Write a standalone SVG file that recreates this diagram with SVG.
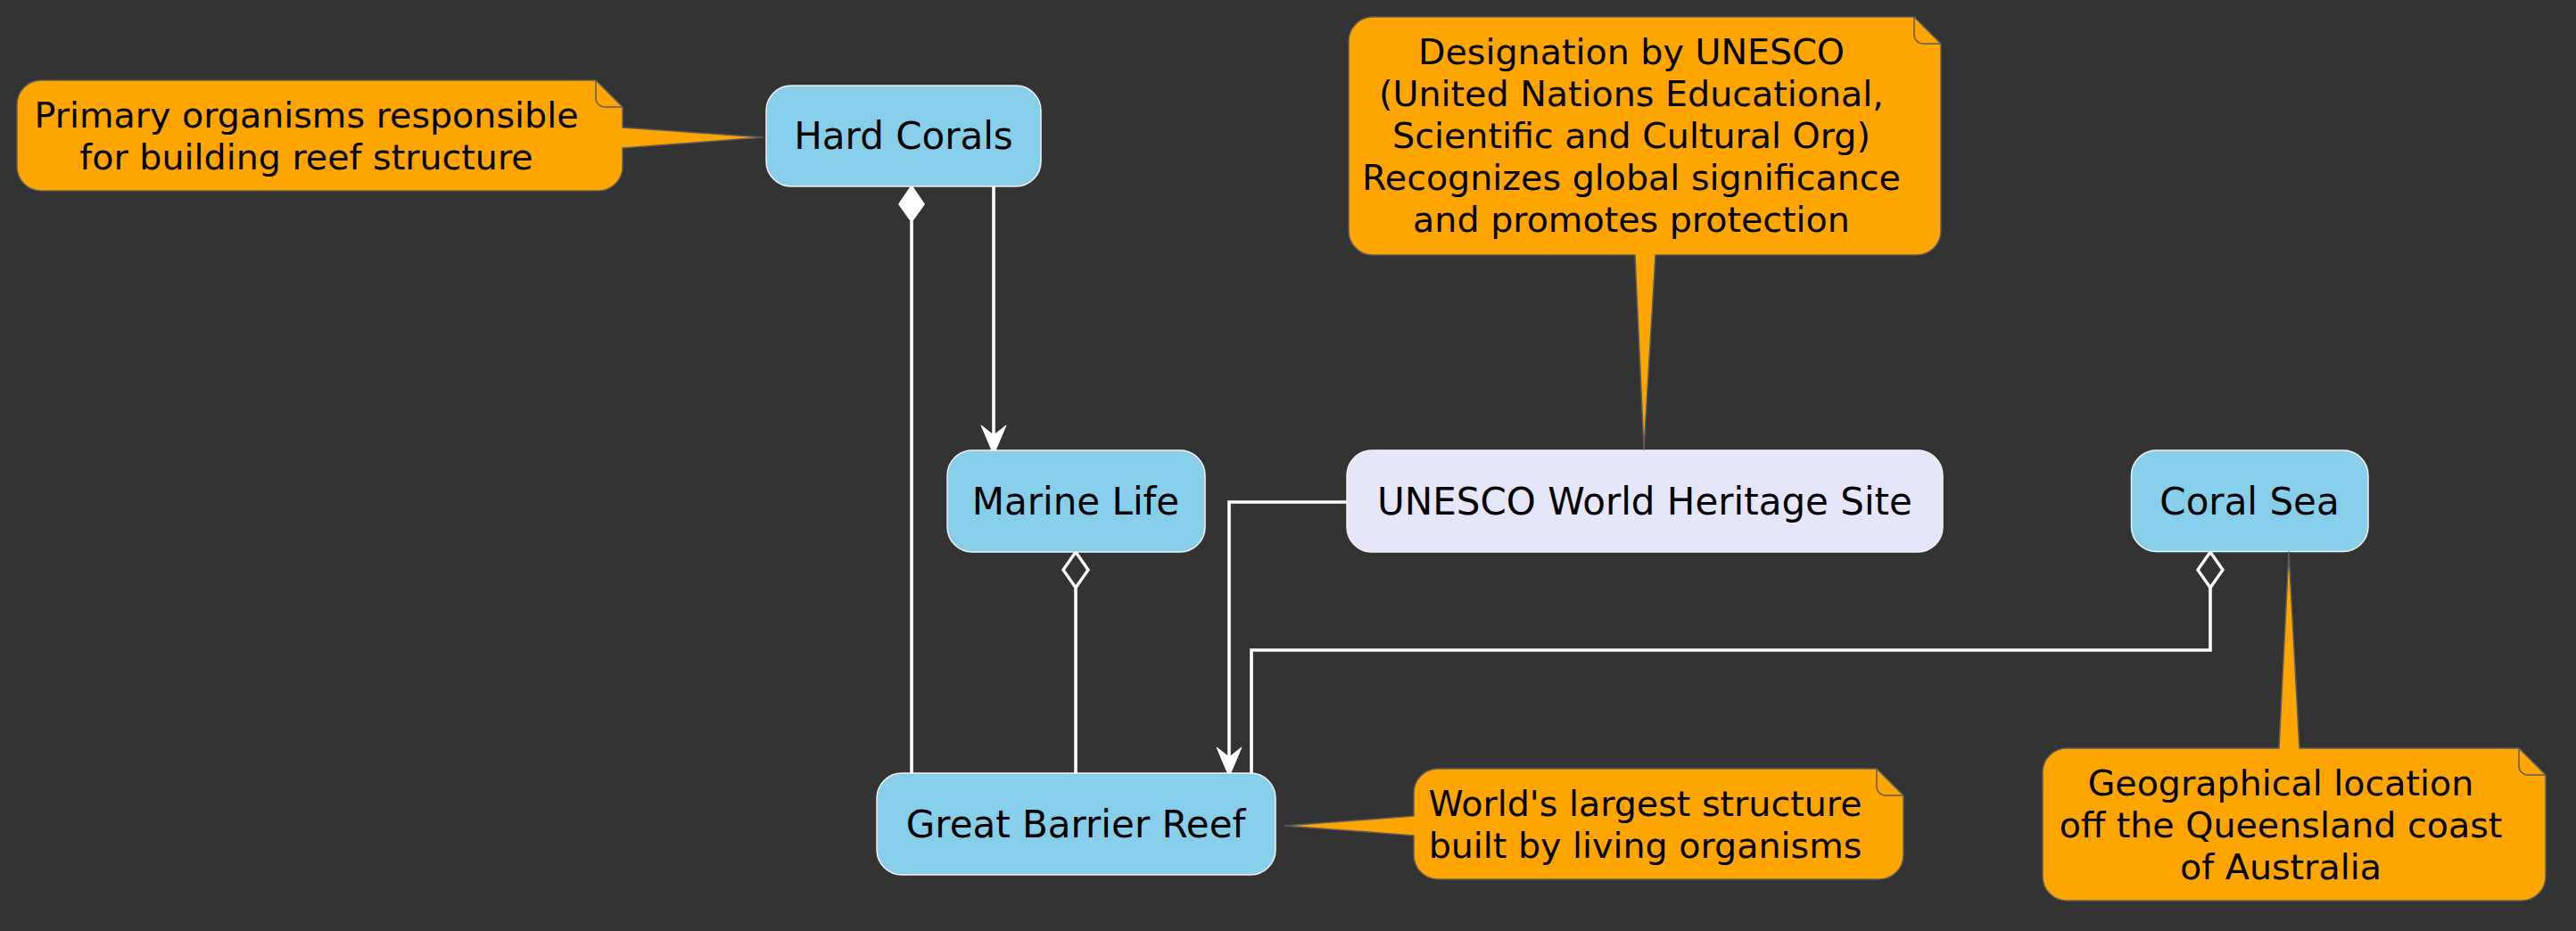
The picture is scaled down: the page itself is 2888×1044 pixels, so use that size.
<svg xmlns="http://www.w3.org/2000/svg" width="2888" height="1044" viewBox="0 0 2888 1044">
<style>
.node{fill:#87CEEB;stroke:#f2f2f2;stroke-width:1.5}
.site{fill:#E6E6FA;stroke:#f2f2f2;stroke-width:1.5}
.nt{font-family:"DejaVu Sans",Verdana,sans-serif;font-size:42px;fill:#000;text-anchor:middle}
.note{fill:#FFA500;stroke:#5c5c5c;stroke-width:1.5;stroke-linejoin:round}
.fold{fill:none;stroke:#5c5c5c;stroke-width:1.5}
.tt{font-family:"DejaVu Sans",Verdana,sans-serif;font-size:39.6px;fill:#000;text-anchor:middle}
.ln{fill:none;stroke:#fff;stroke-width:3.6}
.head{fill:#fff;stroke:#fff;stroke-width:1;stroke-linejoin:miter}
.odia{fill:#333333;stroke:#fff;stroke-width:3.4}
</style>
<rect x="0" y="0" width="2888" height="1044" fill="#333333"/>

<g id="connectors">
  <line class="ln" x1="1114" y1="209" x2="1114" y2="490"/>
  <polygon class="head" points="1114,510 1100,477 1114,488 1128,477"/>
  <line class="ln" x1="1022" y1="248" x2="1022" y2="867"/>
  <polygon fill="#fff" points="1022,207 1007,229 1022,250 1037,229"/>
  <line class="ln" x1="1206" y1="659" x2="1206" y2="867"/>
  <polygon class="odia" points="1206,619 1192,639 1206,659 1220,639"/>
  <polyline class="ln" points="1510,563 1378,563 1378,850"/>
  <polygon class="head" points="1378,871 1364,838 1378,849 1392,838"/>
  <polyline class="ln" points="2478,659 2478,729 1403,729 1403,867"/>
  <polygon class="odia" points="2478,619 2464,639 2478,659 2492,639"/>
</g>

<g id="hard-corals">
  <rect class="node" x="859" y="96" width="308" height="113" rx="28" ry="28"/>
  <text class="nt" x="1013" y="167">Hard Corals</text>
</g>
<g id="marine-life">
  <rect class="node" x="1062" y="505" width="289" height="114" rx="28" ry="28"/>
  <text class="nt" x="1206" y="577">Marine Life</text>
</g>
<g id="unesco-site">
  <rect class="site" x="1510" y="505" width="668" height="114" rx="28" ry="28"/>
  <text class="nt" x="1844" y="577">UNESCO World Heritage Site</text>
</g>
<g id="coral-sea">
  <rect class="node" x="2389.5" y="505" width="265.5" height="113.5" rx="28" ry="28"/>
  <text class="nt" x="2522" y="577">Coral Sea</text>
</g>
<g id="great-barrier-reef">
  <rect class="node" x="983" y="867" width="447" height="114" rx="28" ry="28"/>
  <text class="nt" x="1206" y="938.5">Great Barrier Reef</text>
</g>

<g id="note-hard-corals">
  <path class="note" d="M 46,90 L 668,90 L 698,120 L 698,143 L 856,154 L 698,166 L 698,187 A 27 27 0 0 1 671,214 L 46,214 A 27 27 0 0 1 19,187 L 19,117 A 27 27 0 0 1 46,90 Z"/>
  <path class="fold" d="M 668,90 L 668,110 A 10 10 0 0 0 678,120 L 698,120"/>
  <text class="tt" x="343.5" y="142.7">Primary organisms responsible</text>
  <text class="tt" x="343.5" y="189.7">for building reef structure</text>
</g>
<g id="note-unesco">
  <path class="note" d="M 1539,19 L 2146,19 L 2176,49 L 2176,259 A 27 27 0 0 1 2149,286 L 1856,286 L 1843,504 L 1833,286 L 1539,286 A 27 27 0 0 1 1512,259 L 1512,46 A 27 27 0 0 1 1539,19 Z"/>
  <path class="fold" d="M 2146,19 L 2146,39 A 10 10 0 0 0 2156,49 L 2176,49"/>
  <text class="tt" x="1829" y="71.7">Designation by UNESCO</text>
  <text class="tt" x="1829" y="118.7">(United Nations Educational,</text>
  <text class="tt" x="1829" y="165.7">Scientific and Cultural Org)</text>
  <text class="tt" x="1829" y="212.7">Recognizes global significance</text>
  <text class="tt" x="1829" y="259.7">and promotes protection</text>
</g>
<g id="note-great-barrier-reef">
  <path class="note" d="M 1612,862 L 2104,862 L 2134,892 L 2134,959 A 27 27 0 0 1 2107,986 L 1612,986 A 27 27 0 0 1 1585,959 L 1585,937 L 1440,926 L 1585,915 L 1585,889 A 27 27 0 0 1 1612,862 Z"/>
  <path class="fold" d="M 2104,862 L 2104,882 A 10 10 0 0 0 2114,892 L 2134,892"/>
  <text class="tt" x="1844.5" y="914.7">World's largest structure</text>
  <text class="tt" x="1844.5" y="961.7">built by living organisms</text>
</g>
<g id="note-coral-sea">
  <path class="note" d="M 2317,839 L 2555,839 L 2566,619 L 2578,839 L 2824,839 L 2854,869 L 2854,983 A 27 27 0 0 1 2827,1010 L 2317,1010 A 27 27 0 0 1 2290,983 L 2290,866 A 27 27 0 0 1 2317,839 Z"/>
  <path class="fold" d="M 2824,839 L 2824,859 A 10 10 0 0 0 2834,869 L 2854,869"/>
  <text class="tt" x="2557" y="891.7">Geographical location</text>
  <text class="tt" x="2557" y="938.7">off the Queensland coast</text>
  <text class="tt" x="2557" y="985.7">of Australia</text>
</g>
</svg>
